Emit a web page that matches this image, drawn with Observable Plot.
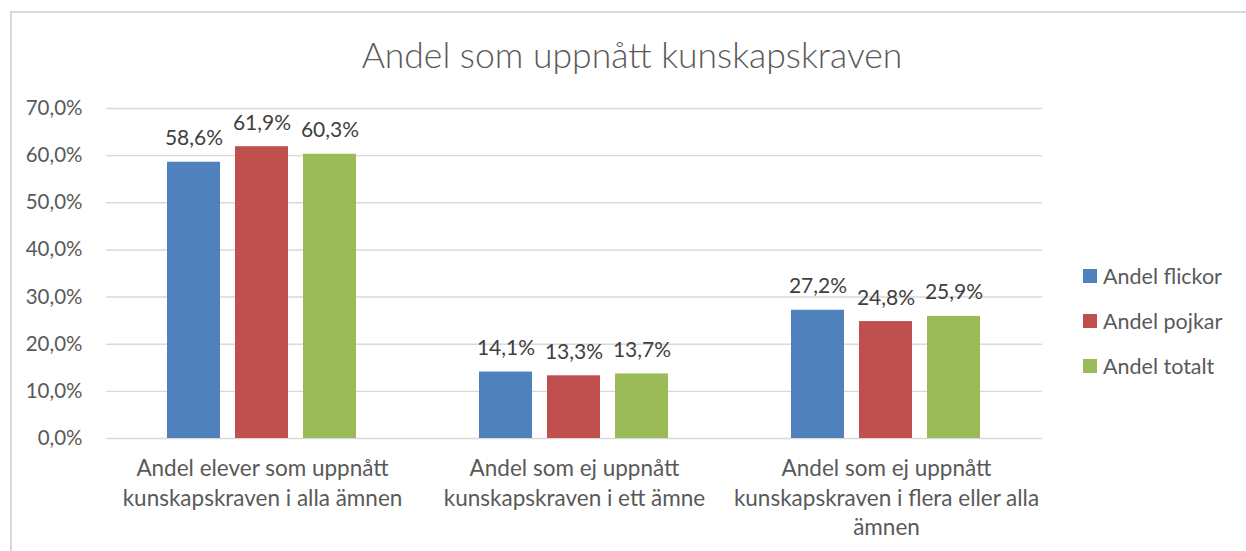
<!DOCTYPE html>
<html>
<head>
<meta charset="utf-8">
<script src="https://cdn.jsdelivr.net/npm/d3@7"></script>
<script src="https://cdn.jsdelivr.net/npm/@observablehq/plot@0.6"></script>
<style>
  html, body { margin: 0; padding: 0; background: #fff; }
  #wrap { position: relative; width: 1246px; height: 551px; overflow: hidden; background: #fff; font-family: Lato, "Open Sans", sans-serif; }
  #border { position: absolute; left: 10px; top: 11px; width: 1300px; height: 600px; border: 2px solid #d9d9d9; box-sizing: border-box; }
  #title { position: absolute; left: 0; top: 32px; width: 1264px; text-align: center; font-size: 35.5px; font-weight: 300; color: #595959; line-height: 46px; white-space: nowrap; }
  #plot { position: absolute; left: 0; top: 0; }
  #legend { position: absolute; left: 1083px; top: 253px; font-size: 21.5px; color: #595959; }
  .li { height: 45px; display: flex; align-items: center; white-space: nowrap; margin-top: 0; }
  .sw { width: 14px; height: 14px; margin-right: 6px; display: inline-block; }
</style>
</head>
<body>
<div id="wrap">
  <div id="border"></div>
  <div id="plot"></div>
  <div id="title">Andel som uppnått kunskapskraven</div>
  <div id="legend"></div>
</div>
<script>
const categories = [
  "Andel elever som uppnått kunskapskraven i alla ämnen",
  "Andel som ej uppnått kunskapskraven i ett ämne",
  "Andel som ej uppnått kunskapskraven i flera eller alla ämnen"
];
const categoryTickLabels = [
  "Andel elever som uppnått\nkunskapskraven i alla ämnen",
  "Andel som ej uppnått\nkunskapskraven i ett ämne",
  "Andel som ej uppnått\nkunskapskraven i flera eller alla\nämnen"
];
const seriesNames = ["Andel flickor", "Andel pojkar", "Andel totalt"];
const seriesColors = ["#4F81BD", "#C0504D", "#9BBB59"];
const flickor = [58.6, 14.1, 27.2];
const pojkar = [61.9, 13.3, 24.8];
const totalt = [60.3, 13.7, 25.9];
const yTicks = [0, 10, 20, 30, 40, 50, 60, 70];

const seriesValues = [flickor, pojkar, totalt];
const data = [];
categories.forEach((c, i) => {
  seriesNames.forEach((s, j) => {
    data.push({category: c, series: s, value: seriesValues[j][i]});
  });
});
const fmt = v => v.toFixed(1).replace(".", ",") + "%";
const tickLabelOf = c => categoryTickLabels[categories.indexOf(c)];

const chart = Plot.plot({
  width: 1246,
  height: 551,
  marginLeft: 105,
  marginRight: 203,
  marginTop: 108,
  marginBottom: 113,
  style: {fontFamily: "Lato, 'Open Sans', sans-serif", fontSize: "21px", color: "#595959", background: "transparent"},
  fx: {domain: categories, padding: 0, label: null},
  x: {domain: seriesNames, paddingInner: 0.217, paddingOuter: 0.873, axis: null, label: null},
  y: {domain: [0, 70], label: null},
  color: {domain: seriesNames, range: seriesColors},
  marks: [
    Plot.gridY(yTicks, {stroke: "#d9d9d9", strokeOpacity: 1, strokeWidth: 1.4}),
    Plot.axisY(yTicks, {tickSize: 0, tickPadding: 24, tickFormat: fmt, label: null, fontSize: 20.5}),
    Plot.axisFx({anchor: "bottom", tickSize: 0, tickPadding: 17, tickFormat: tickLabelOf, lineHeight: 1.31, label: null, fontSize: 22.5}),
    Plot.barY(data, {fx: "category", x: "series", y: "value", fill: "series"}),
    Plot.text(data, {fx: "category", x: "series", y: "value", text: d => fmt(d.value), lineAnchor: "bottom", dy: -17, fill: "#404040", fontSize: 21})
  ]
});
document.getElementById("plot").appendChild(chart);

const legend = document.getElementById("legend");
seriesNames.forEach((s, i) => {
  const row = document.createElement("div");
  row.className = "li";
  const sw = document.createElement("span");
  sw.className = "sw";
  sw.style.background = seriesColors[i];
  const t = document.createElement("span");
  t.textContent = s;
  row.appendChild(sw);
  row.appendChild(t);
  legend.appendChild(row);
});
</script>
</body>
</html>
